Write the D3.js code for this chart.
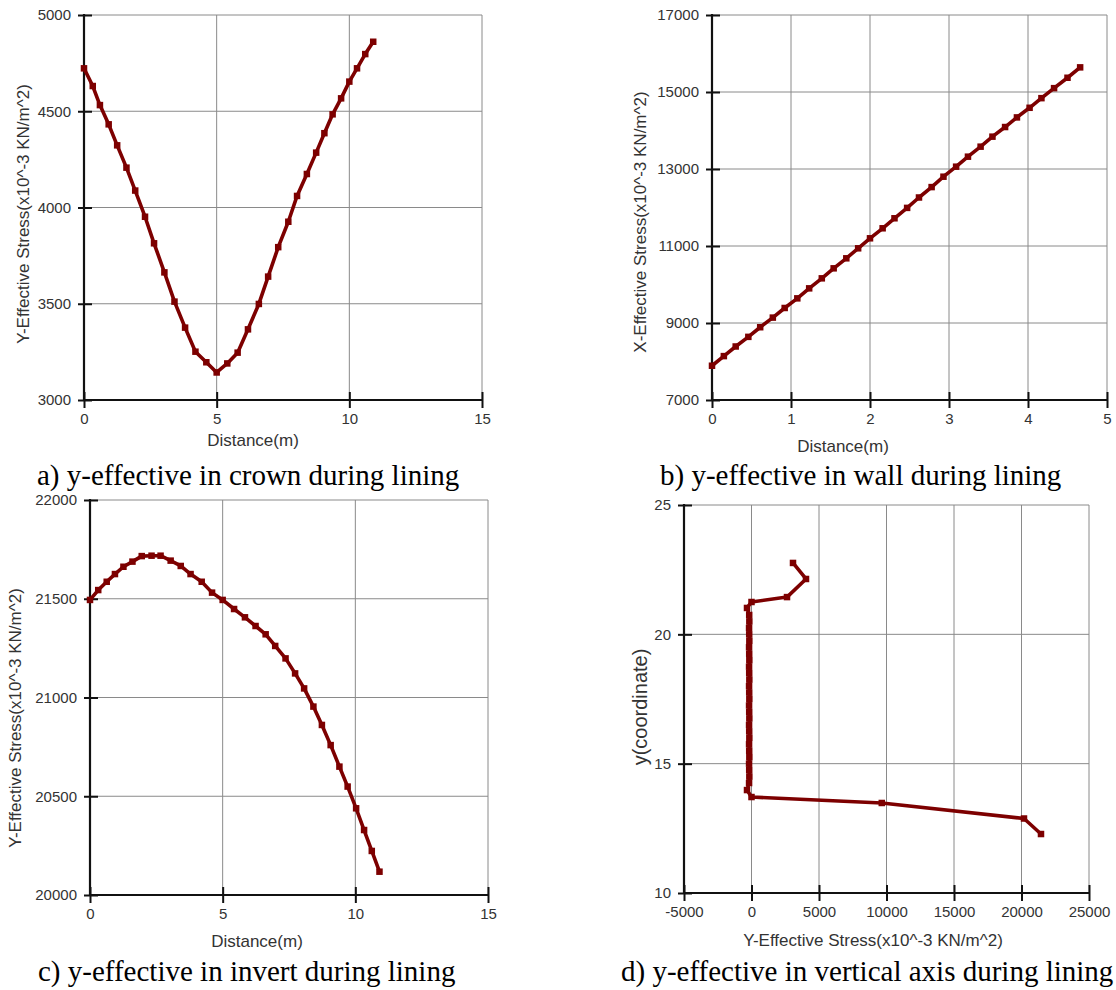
<!DOCTYPE html>
<html>
<head>
<meta charset="utf-8">
<script src="https://cdn.jsdelivr.net/npm/d3@7"></script>
<style>
  body { margin: 0; background: #fff; }
  svg { display: block; }
  .tick text { font-family: "Liberation Sans", Arial, sans-serif; font-size: 15px; fill: #333; }
  .title { font-family: "Liberation Sans", Arial, sans-serif; font-size: 17px; fill: #333; }
  .caption { font-family: "Liberation Serif", "Times New Roman", serif; font-size: 29px; fill: #000; }
</style>
</head>
<body>
<div id="chart"></div>
<script>
// a) crown
var crownX = [0, 0.33, 0.6, 0.93, 1.25, 1.6, 1.93, 2.3, 2.64, 3.03, 3.41, 3.81, 4.2, 4.61, 5.0, 5.4,
              5.79, 6.18, 6.59, 6.94, 7.32, 7.7, 8.03, 8.4, 8.75, 9.06, 9.37, 9.69, 10.0, 10.29, 10.6, 10.9];
var crownY = [4723, 4631, 4532, 4432, 4323, 4207, 4088, 3952, 3814, 3663, 3511, 3376, 3251, 3196, 3143, 3190,
              3246, 3367, 3499, 3641, 3794, 3926, 4060, 4174, 4285, 4386, 4484, 4567, 4654, 4723, 4797, 4861];

// b) wall
var wallX = [0, 0.15, 0.3, 0.46, 0.61, 0.77, 0.92, 1.08, 1.23, 1.39, 1.54, 1.7, 1.85, 2.0, 2.16, 2.31,
             2.47, 2.62, 2.78, 2.93, 3.09, 3.24, 3.4, 3.55, 3.71, 3.86, 4.02, 4.17, 4.33, 4.5, 4.66];
var wallY = [7890, 8140, 8390, 8640, 8890, 9140, 9390, 9640, 9900, 10160, 10420, 10680, 10940, 11200, 11460, 11720,
             11990, 12260, 12530, 12800, 13060, 13320, 13580, 13840, 14090, 14340, 14590, 14840, 15100, 15370, 15640];

// c) invert
var invertX = [0, 0.31, 0.63, 0.94, 1.26, 1.6, 1.95, 2.32, 2.66, 3.04, 3.42, 3.79, 4.21, 4.6, 5.0, 5.43,
               5.84, 6.24, 6.62, 6.98, 7.37, 7.73, 8.07, 8.42, 8.74, 9.07, 9.4, 9.71, 10.03, 10.33, 10.62, 10.91];
var invertY = [21494, 21544, 21586, 21625, 21662, 21688, 21716, 21718, 21718, 21693, 21666, 21625, 21586, 21531, 21494, 21448,
               21406, 21362, 21320, 21261, 21198, 21122, 21046, 20954, 20861, 20759, 20650, 20549, 20439, 20329, 20223, 20118];

// d) vertical axis (stress on x, coordinate on y)
var axisStress = [3074, 4037, 2630, 0, -333,
                  -170, -160, -180, -170, -160, -180, -170, -160, -180, -170, -160, -180, -170, -160,
                  -180, -170, -160, -180, -170, -160, -180, -170, -160, -180, -170, -160, -180,
                  -333, 0, 9650, 20185, 21444];
var axisCoord  = [22.76, 22.14, 21.44, 21.25, 21.02,
                  20.75, 20.5, 20.25, 20.0, 19.75, 19.5, 19.25, 19.0, 18.75, 18.5, 18.25, 18.0, 17.75, 17.5,
                  17.25, 17.0, 16.75, 16.5, 16.25, 16.0, 15.75, 15.5, 15.25, 15.0, 14.75, 14.5, 14.25,
                  13.98, 13.71, 13.48, 12.88, 12.28];

var captions = ["a) y-effective in crown during lining", "b) y-effective in wall during lining",
                "c) y-effective in invert during lining", "d) y-effective in vertical axis during lining"];
var stressTitle = "Y-Effective Stress(x10^-3 KN/m^2)";

var lineColor = "#7d0000";

var svg = d3.select("#chart").append("svg")
    .attr("width", 1116)
    .attr("height", 990);

//Draws one panel: plot box, grid, axes, line with square markers, titles and caption
function drawPanel(p) {
    var x = d3.scaleLinear().domain(p.xDomain).range([p.left, p.right]);
    var y = d3.scaleLinear().domain(p.yDomain).range([p.bottom, p.top]);
    var g = svg.append("g");
    var fmt = function(d) { return String(d); }; //plain hyphen for negatives

    //grid
    g.append("g").selectAll("line").data(p.xTicks).enter().append("line")
        .attr("x1", function(d) { return x(d); }).attr("x2", function(d) { return x(d); })
        .attr("y1", p.top).attr("y2", p.bottom)
        .attr("stroke", "#8a8a8a").attr("stroke-width", 1);
    g.append("g").selectAll("line").data(p.yTicks).enter().append("line")
        .attr("y1", function(d) { return y(d); }).attr("y2", function(d) { return y(d); })
        .attr("x1", p.left).attr("x2", p.right)
        .attr("stroke", "#8a8a8a").attr("stroke-width", 1);

    //axes with ticks crossing the axis line
    var yAxis = g.append("g").attr("transform", "translate(" + p.left + ",0)")
        .call(d3.axisLeft(y).tickValues(p.yTicks).tickSize(6).tickPadding(7).tickFormat(fmt));
    yAxis.selectAll(".tick line").attr("x1", 8).attr("x2", -6).attr("stroke", "#111").attr("stroke-width", 2);
    yAxis.select(".domain").remove();

    var xAxis = g.append("g").attr("transform", "translate(0," + p.bottom + ")")
        .call(d3.axisBottom(x).tickValues(p.xTicks).tickSize(8).tickPadding(3).tickFormat(fmt));
    xAxis.selectAll(".tick line").attr("y1", -8).attr("y2", 8).attr("stroke", "#111").attr("stroke-width", 2);
    xAxis.select(".domain").remove();
    xAxis.selectAll(".tick text").attr("dy", "0.85em");

    g.append("line").attr("x1", p.left).attr("x2", p.left).attr("y1", p.top - 1).attr("y2", p.bottom + 1)
        .attr("stroke", "#111").attr("stroke-width", 2.2);
    g.append("line").attr("x1", p.left - 1).attr("x2", p.right + 1).attr("y1", p.bottom).attr("y2", p.bottom)
        .attr("stroke", "#111").attr("stroke-width", 2.2);

    //data
    var pts = p.xs.map(function(v, i) { return [v, p.ys[i]]; });
    var line = d3.line().x(function(d) { return x(d[0]); }).y(function(d) { return y(d[1]); });
    g.append("path").datum(pts).attr("d", line)
        .attr("fill", "none").attr("stroke", lineColor).attr("stroke-width", 3.6)
        .attr("stroke-linejoin", "round");
    g.append("g").selectAll("rect").data(pts).enter().append("rect")
        .attr("x", function(d) { return x(d[0]) - 3.25; })
        .attr("y", function(d) { return y(d[1]) - 3.25; })
        .attr("width", 6.5).attr("height", 6.5)
        .attr("fill", lineColor);

    //titles
    g.append("text").attr("class", "title")
        .attr("x", p.xTitle[0]).attr("y", p.xTitle[1])
        .attr("text-anchor", "middle").attr("dominant-baseline", "middle")
        .text(p.xLabel);
    g.append("text").attr("class", "title")
        .attr("transform", "translate(" + p.yTitle[0] + "," + p.yTitle[1] + ") rotate(-90)")
        .attr("text-anchor", "middle").attr("dominant-baseline", "middle")
        .style("font-size", p.yTitleSize || null)
        .text(p.yLabel);

    g.append("text").attr("class", "caption")
        .attr("x", p.caption[0]).attr("y", p.caption[1])
        .text(p.captionText);
}

drawPanel({
    left: 84, right: 482, top: 15, bottom: 400,
    xDomain: [0, 15], yDomain: [3000, 5000],
    xTicks: [0, 5, 10, 15], yTicks: [3000, 3500, 4000, 4500, 5000],
    xs: crownX, ys: crownY,
    xLabel: "Distance(m)", xTitle: [253, 442],
    yLabel: stressTitle, yTitle: [25, 214],
    captionText: captions[0], caption: [37, 485]
});

drawPanel({
    left: 712, right: 1107, top: 15, bottom: 400,
    xDomain: [0, 5], yDomain: [7000, 17000],
    xTicks: [0, 1, 2, 3, 4, 5], yTicks: [7000, 9000, 11000, 13000, 15000, 17000],
    xs: wallX, ys: wallY,
    xLabel: "Distance(m)", xTitle: [843, 448],
    yLabel: "X-Effective Stress(x10^-3 KN/m^2)", yTitle: [642, 222],
    captionText: captions[1], caption: [660, 485]
});

drawPanel({
    left: 90, right: 488, top: 500, bottom: 895,
    xDomain: [0, 15], yDomain: [20000, 22000],
    xTicks: [0, 5, 10, 15], yTicks: [20000, 20500, 21000, 21500, 22000],
    xs: invertX, ys: invertY,
    xLabel: "Distance(m)", xTitle: [257, 943],
    yLabel: stressTitle, yTitle: [17, 718],
    captionText: captions[2], caption: [38, 981]
});

drawPanel({
    left: 684, right: 1089, top: 505, bottom: 893,
    xDomain: [-5000, 25000], yDomain: [10, 25],
    xTicks: [-5000, 0, 5000, 10000, 15000, 20000, 25000], yTicks: [10, 15, 20, 25],
    xs: axisStress, ys: axisCoord,
    xLabel: stressTitle, xTitle: [873, 942],
    yLabel: "y(coordinate)", yTitle: [642, 707], yTitleSize: "20px",
    captionText: captions[3], caption: [621, 981]
});
</script>
</body>
</html>
